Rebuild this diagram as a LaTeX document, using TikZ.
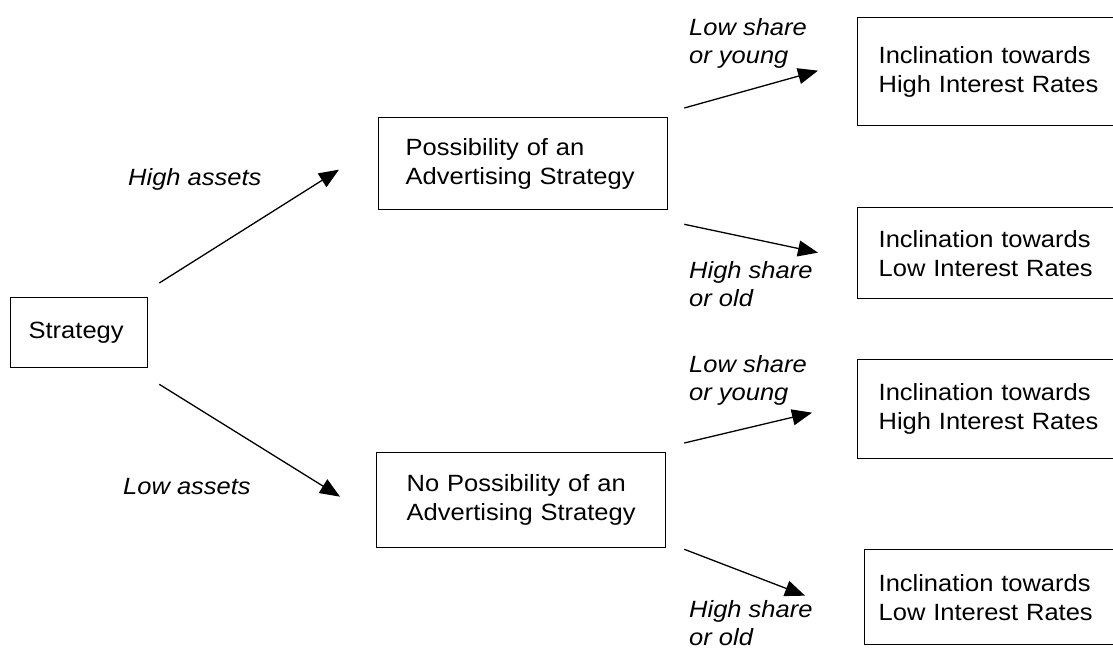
\documentclass[tikz,border=0pt]{standalone}
\usepackage{fontspec}
\setmainfont[FakeStretch=1.085]{Liberation Sans}
\usetikzlibrary{arrows.meta,calc}
\tikzset{
  box/.style={draw, line width=1.3pt, rectangle, anchor=north west, align=left,
    font=\fontsize{23.5}{29}\selectfont, inner ysep=0pt},
  lbl/.style={anchor=base west, align=left, inner sep=0pt,
    font=\fontsize{23.5}{28}\selectfont\itshape},
  arr/.style={line width=1.3pt, -{Triangle[length=20pt,width=16pt]}}
}
\begin{document}
\begin{tikzpicture}[x=1pt,y=-1pt]
\useasboundingbox (0,0) rectangle (1113,648);
\clip (0,0) rectangle (1113,648);
% boxes
\node[box, minimum width=137, minimum height=70, inner xsep=18, text width=101] (s) at (10,297) {Strategy};
\node[box, minimum width=289, minimum height=92, inner xsep=27, text width=235] (p) at (378,117) {Possibility of an\\Advertising~Strategy};
\node[box, minimum width=289, minimum height=95, inner xsep=30, text width=229] (n) at (376,452) {No Possibility of an\\Advertising~Strategy};
\node[box, minimum width=290, minimum height=108, inner xsep=21, text width=248] (r1) at (857,17) {Inclination~towards\\High~Interest~Rates};
\node[box, minimum width=290, minimum height=91, inner xsep=21, text width=248] (r2) at (857,207) {Inclination~towards\\Low~Interest~Rates};
\node[box, minimum width=290, minimum height=99, inner xsep=21, text width=248] (r3) at (857,359) {Inclination~towards\\High~Interest~Rates};
\node[box, minimum width=283, minimum height=95, inner xsep=14, text width=255] (r4) at (864,549) {Inclination~towards\\Low~Interest~Rates};
% labels (anchor = baseline of the last line)
\node[lbl] (l1) at (128,185) {High assets};
\node[lbl] (l2) at (123,494) {Low assets};
\node[lbl] (l3) at (689,63) {Low share\\or young};
\node[lbl] (l4) at (689,306) {High share\\or old};
\node[lbl] (l5) at (689,400) {Low share\\or young};
\node[lbl] (l6) at (689,645) {High share\\or old};
% connectors
\draw[arr] ($(s.north east)+(11,-14)$) -- ($(p.west)+(-39,6)$);
\draw[arr] ($(s.south east)+(11,16)$) -- ($(n.west)+(-36,-3.5)$);
\draw[arr] ($(p.north east)+(16,-9)$) -- ($(r1.west)+(-39,-1)$);
\draw[arr] ($(p.south east)+(16,14)$) -- ($(r2.west)+(-39,-0.5)$);
\draw[arr] ($(n.north east)+(18,-9)$) -- ($(r3.west)+(-45,3.5)$);
\draw[arr] ($(n.south east)+(18,1)$) -- ($(r4.west)+(-59,-1.5)$);
\end{tikzpicture}
\end{document}
